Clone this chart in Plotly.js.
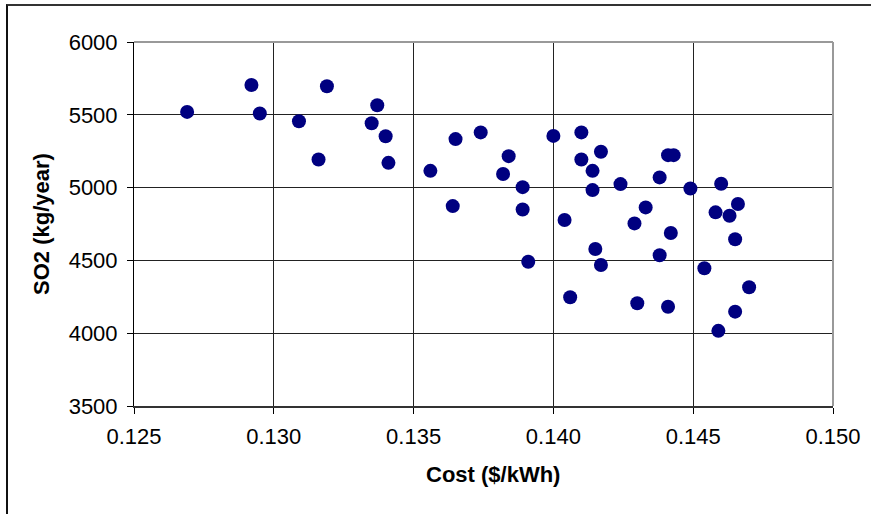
<!DOCTYPE html>
<html>
<head>
<meta charset="utf-8">
<script src="https://cdn.plot.ly/plotly-3.0.1.min.js"></script>
<style>
  html, body { margin: 0; padding: 0; background: #fff; }
  #wrap { position: relative; width: 871px; height: 514px; }
  #chart { width: 871px; height: 514px; }
  #frame { position: absolute; left: 6px; top: 4px; right: 0; bottom: 0;
           border-left: 2px solid #111; border-top: 2px solid #333; pointer-events: none; }
</style>
</head>
<body>
<div id="wrap">
  <div id="chart"></div>
  <div id="frame"></div>
</div>
<script>
// Cost ($/kWh)
var cost = [
  0.1269, 0.1292, 0.1295, 0.1309, 0.1319, 0.1316, 0.1337, 0.1335, 0.1340, 0.1341,
  0.1356, 0.1365, 0.1374, 0.1364, 0.1384, 0.1382, 0.1389, 0.1389, 0.1391, 0.1400,
  0.1410, 0.1410, 0.1417, 0.1414, 0.1414, 0.1424, 0.1404, 0.1415, 0.1417, 0.1406,
  0.1430, 0.1429, 0.1433, 0.1441, 0.1443, 0.1438, 0.1449, 0.1460, 0.1466, 0.1458,
  0.1463, 0.1465, 0.1442, 0.1438, 0.1454, 0.1470, 0.1441, 0.1465, 0.1459
];
// SO2 (kg/year)
var so2 = [
  5520, 5705, 5509, 5456, 5696, 5193, 5566, 5442, 5353, 5170,
  5115, 5333, 5379, 4873, 5216, 5093, 5003, 4850, 4491, 5355,
  5379, 5193, 5246, 5115, 4983, 5024, 4777, 4578, 4468, 4247,
  4206, 4754, 4864, 5223, 5223, 5070, 4994, 5026, 4887, 4830,
  4807, 4645, 4688, 4535, 4446, 4316, 4182, 4148, 4016
];
var xTicks = [0.125, 0.130, 0.135, 0.140, 0.145, 0.150];
var xTickText = ["0.125", "0.130", "0.135", "0.140", "0.145", "0.150"];
var yTicks = [3500, 4000, 4500, 5000, 5500, 6000];
var xTitle = "Cost ($/kWh)";
var yTitle = "SO2 (kg/year)";

var font = "Liberation Sans, Arial, sans-serif";

var trace = {
  x: cost, y: so2, type: "scatter", mode: "markers",
  marker: { color: "#000080", size: 14, line: { width: 0 } },
  hoverinfo: "x+y"
};

var layout = {
  width: 871, height: 514,
  margin: { l: 134, r: 38, t: 42, b: 108 },
  paper_bgcolor: "#fff", plot_bgcolor: "#fff",
  showlegend: false,
  font: { family: font, color: "#000", size: 22 },
  xaxis: {
    range: [0.125, 0.150], tickmode: "array", tickvals: xTicks, ticktext: xTickText,
    showgrid: true, gridcolor: "#222", gridwidth: 1,
    zeroline: false, showline: true, linecolor: "#333", linewidth: 2,
    ticks: "outside", ticklen: 6, tickcolor: "#000", tickwidth: 1,
    ticklabelstandoff: 4,
    tickfont: { family: font, size: 22, color: "#000" }
  },
  yaxis: {
    range: [3500, 6000], tickmode: "array", tickvals: yTicks,
    showgrid: true, gridcolor: "#222", gridwidth: 1,
    zeroline: false, showline: true, linecolor: "#000", linewidth: 1,
    ticks: "outside", ticklen: 6, tickcolor: "#000", tickwidth: 1,
    ticklabelstandoff: 5,
    tickfont: { family: font, size: 22, color: "#000" },
    title: { text: "<b>" + yTitle + "</b>", font: { family: font, size: 22, color: "#000" }, standoff: 12 }
  },
  annotations: [
    { text: "<b>" + xTitle + "</b>", xref: "paper", yref: "paper", x: 0.514, y: -0.187,
      xanchor: "center", yanchor: "middle", showarrow: false,
      font: { family: font, size: 22, color: "#000" } }
  ],
  shapes: [
    { type: "line", xref: "paper", yref: "paper", x0: 0, x1: 1, y0: 1, y1: 1, line: { color: "#999", width: 2 } },
    { type: "line", xref: "paper", yref: "paper", x0: 1, x1: 1, y0: 0, y1: 1, line: { color: "#999", width: 2 } }
  ]
};

Plotly.newPlot("chart", [trace], layout, { displayModeBar: false, staticPlot: true });
</script>
</body>
</html>
